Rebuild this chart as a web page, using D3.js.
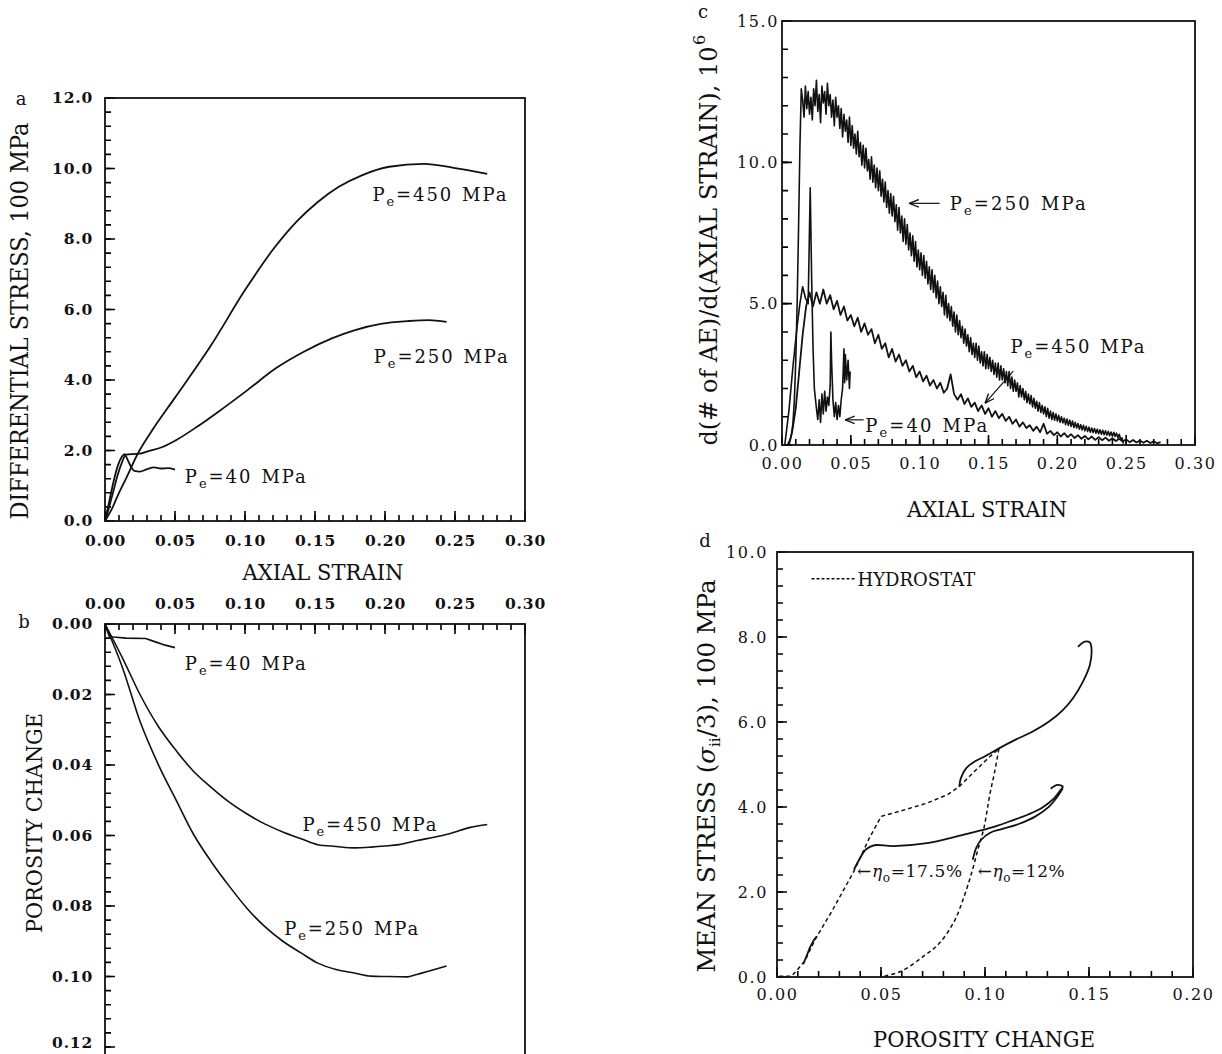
<!DOCTYPE html>
<html>
<head>
<meta charset="utf-8">
<script src="https://cdn.jsdelivr.net/npm/d3@7"></script>
<style>
body { margin: 0; background: #fff; }
svg text { font-family: "DejaVu Serif", serif; fill: #111; }
</style>
</head>
<body>
<svg id="chart" width="1222" height="1054"></svg>
<script>
// ---- panel a: differential stress (100 MPa) vs axial strain
let strainA40 = [0, 0.003, 0.006, 0.009, 0.012, 0.014, 0.016, 0.018, 0.021, 0.025, 0.03, 0.035, 0.04, 0.045, 0.05];
let stressA40 = [0, 0.55, 1.1, 1.55, 1.82, 1.9, 1.75, 1.58, 1.42, 1.4, 1.47, 1.52, 1.49, 1.5, 1.46];
let strainA250 = [0, 0.003, 0.006, 0.009, 0.012, 0.015, 0.02, 0.025, 0.03, 0.041, 0.051, 0.066, 0.081, 0.102, 0.122, 0.142, 0.162, 0.178, 0.198, 0.216, 0.231, 0.244];
let stressA250 = [0, 0.4, 0.85, 1.3, 1.65, 1.88, 1.9, 1.91, 1.97, 2.1, 2.3, 2.68, 3.1, 3.72, 4.33, 4.8, 5.18, 5.41, 5.6, 5.67, 5.7, 5.65];
let strainA450 = [0, 0.005, 0.01, 0.015, 0.023, 0.035, 0.05, 0.076, 0.1, 0.12, 0.137, 0.152, 0.167, 0.183, 0.203, 0.228, 0.249, 0.273];
let stressA450 = [0, 0.35, 0.8, 1.2, 1.88, 2.65, 3.5, 5.0, 6.55, 7.7, 8.5, 9.05, 9.48, 9.8, 10.05, 10.13, 10.02, 9.85];

// ---- panel b: porosity change vs axial strain
let strainB40 = [0, 0.003, 0.006, 0.015, 0.029, 0.0355, 0.043, 0.05];
let poroB40 = [0, 0.0035, 0.0037, 0.004, 0.0041, 0.005, 0.006, 0.0067];
let strainB450 = [0, 0.0127, 0.025, 0.038, 0.051, 0.063, 0.076, 0.089, 0.1015, 0.114, 0.127, 0.14, 0.152, 0.165, 0.178, 0.19, 0.2, 0.21, 0.223, 0.235, 0.246, 0.261, 0.273];
let poroB450 = [0, 0.0098, 0.02, 0.029, 0.036, 0.0417, 0.0464, 0.0506, 0.0539, 0.0567, 0.059, 0.0609, 0.0626, 0.0631, 0.0635, 0.0633, 0.063, 0.0626, 0.0614, 0.0605, 0.0595, 0.0577, 0.0569];
let strainB250 = [0, 0.0127, 0.025, 0.038, 0.051, 0.063, 0.076, 0.089, 0.1015, 0.114, 0.127, 0.14, 0.152, 0.165, 0.178, 0.19, 0.2, 0.216, 0.222, 0.231, 0.244];
let poroB250 = [0, 0.0126, 0.0276, 0.0398, 0.0501, 0.0595, 0.0675, 0.0745, 0.0807, 0.0858, 0.09, 0.0933, 0.0962, 0.098, 0.099, 0.0999, 0.1, 0.1001, 0.0995, 0.0985, 0.097];

// ---- panel c: d(# of AE)/d(axial strain), 10^6 (noisy records)
let strainC40 = [0.002, 0.005, 0.008, 0.011, 0.013, 0.015, 0.017, 0.019, 0.0205, 0.0215,
    0.0225, 0.0235, 0.025, 0.026, 0.027, 0.028, 0.029, 0.030, 0.031, 0.032,
    0.033, 0.034, 0.035, 0.0355, 0.036, 0.037, 0.038, 0.039, 0.040, 0.041,
    0.042, 0.043, 0.044, 0.045, 0.0455, 0.046, 0.047, 0.048, 0.049, 0.0495];
let aeC40 = [0.0, 1.2, 2.8, 4.2, 5.0, 5.6, 5.2, 5.0, 9.1, 6.0,
    3.5, 2.0, 1.3, 0.9, 1.6, 0.8, 1.8, 1.1, 1.9, 1.2,
    1.7, 1.4, 2.1, 4.0, 3.0, 1.6, 1.0, 1.5, 0.9, 1.4,
    1.0, 1.6, 2.0, 3.4, 2.2, 3.2, 2.3, 3.0, 2.0, 2.6];
// 250 MPa record, one reading every 0.001 strain from 0.004
let aeC250Start = 0.004, aeC250Step = 0.001;
let aeC250 = [0.0, 0.1, 0.2, 0.4, 0.8, 1.6, 3.0, 5.0, 7.6, 10.5,
    12.6, 12.2, 11.6, 12.7, 11.9, 12.5, 11.7, 12.3, 11.5, 12.6,
    12.0, 12.9, 11.8, 12.4, 11.4, 12.7, 12.1, 12.5, 11.7, 12.8,
    12.0, 12.4, 11.6, 12.2, 11.3, 12.3, 11.6, 12.0, 11.2, 11.9,
    10.9, 11.7, 11.1, 11.5, 10.7, 11.6, 10.6, 11.3, 10.5, 11.0,
    10.3, 11.1, 10.2, 10.7, 9.9, 10.6, 9.8, 10.5, 9.7, 10.1,
    9.4, 10.2, 9.3, 9.9, 9.1, 9.8, 9.0, 9.7, 8.8, 9.4,
    8.6, 9.3, 8.4, 9.0, 8.2, 8.9, 8.1, 8.8, 7.9, 8.5,
    7.6, 8.4, 7.5, 8.1, 7.2, 8.0, 7.1, 7.8, 6.9, 7.5,
    6.7, 7.4, 6.5, 7.2, 6.3, 6.9, 6.2, 6.8, 6.0, 6.7,
    5.9, 6.5, 5.7, 6.3, 5.5, 6.2, 5.4, 6.0, 5.2, 5.8,
    5.0, 5.6, 4.9, 5.4, 4.6, 5.3, 4.5, 5.0, 4.4, 4.9,
    4.2, 4.7, 4.0, 4.6, 3.9, 4.4, 3.8, 4.2, 3.6, 4.1,
    3.5, 3.9, 3.3, 3.8, 3.2, 3.6, 3.1, 3.6, 3.0, 3.5,
    2.9, 3.3, 2.8, 3.3, 2.7, 3.2, 2.7, 3.1, 2.6, 3.0,
    2.5, 2.9, 2.4, 2.9, 2.3, 2.8, 2.3, 2.7, 2.2, 2.6,
    2.1, 2.6, 2.0, 2.4, 1.9, 2.3, 1.9, 2.2, 1.7, 2.1,
    1.7, 2.0, 1.6, 1.9, 1.5, 1.8, 1.45, 1.75, 1.35, 1.65,
    1.3, 1.55, 1.2, 1.5, 1.15, 1.4, 1.1, 1.35, 1.0, 1.3,
    0.95, 1.2, 0.9, 1.15, 0.88, 1.1, 0.85, 1.05, 0.8, 1.0,
    0.78, 0.95, 0.72, 0.92, 0.7, 0.88, 0.66, 0.85, 0.62, 0.8,
    0.6, 0.76, 0.56, 0.72, 0.53, 0.7, 0.5, 0.66, 0.48, 0.63,
    0.45, 0.6, 0.44, 0.58, 0.42, 0.56, 0.4, 0.54, 0.38, 0.52,
    0.36, 0.5, 0.35, 0.48, 0.33, 0.46, 0.31, 0.45, 0.3, 0.42,
    0.26, 0.38, 0.2, 0.25, 0.05];
// 450 MPa record, one reading every 0.0025 strain from 0.005
let aeC450Start = 0.005, aeC450Step = 0.0025;
let aeC450 = [0.0, 0.5, 1.3, 2.6, 3.9, 4.9, 5.4, 4.9, 5.4, 5.0,
    5.5, 5.0, 5.3, 4.8, 5.1, 4.6, 4.9, 4.4, 4.6, 4.2,
    4.5, 4.0, 4.3, 3.9, 4.1, 3.6, 3.9, 3.4, 3.6, 3.1,
    3.4, 2.95, 3.2, 2.8, 3.0, 2.6, 2.8, 2.4, 2.6, 2.25,
    2.45, 2.1, 2.3, 2.0, 2.2, 1.85, 2.0, 2.5, 1.8, 1.6,
    1.8, 1.45, 1.65, 1.35, 1.5, 1.2, 1.4, 1.1, 1.3, 1.0,
    1.2, 0.95, 1.1, 0.85, 1.0, 0.75, 0.9, 0.65, 0.8, 0.6,
    0.7, 0.5, 0.65, 0.45, 0.75, 0.4, 0.5, 0.35, 0.45, 0.3,
    0.42, 0.28, 0.38, 0.25, 0.35, 0.22, 0.32, 0.2, 0.3, 0.18,
    0.28, 0.17, 0.26, 0.15, 0.24, 0.14, 0.22, 0.12, 0.2, 0.1,
    0.18, 0.09, 0.16, 0.08, 0.15, 0.07, 0.13, 0.06, 0.1];

// ---- panel d: mean stress (100 MPa) vs porosity change
let poroD175Hydro = [0.0011, 0.0069, 0.0093, 0.0134, 0.0183, 0.0264, 0.037, 0.0444, 0.0501, 0.059, 0.0721, 0.0819, 0.0876, 0.095, 0.1007, 0.1067];
let meanD175Hydro = [0.02, 0.02, 0.14, 0.38, 0.88, 1.55, 2.49, 3.27, 3.78, 3.9, 4.09, 4.29, 4.48, 4.84, 5.11, 5.38];
let poroD12Hydro = [0.0517, 0.0599, 0.0705, 0.0778, 0.0852, 0.09, 0.0938, 0.0966, 0.0995, 0.1023, 0.1047, 0.1067];
let meanD12Hydro = [0.02, 0.14, 0.49, 0.78, 1.31, 1.9, 2.49, 3.0, 3.51, 4.29, 4.84, 5.38];
let poroD175Low = [0.037, 0.0395, 0.0427, 0.0468, 0.0558, 0.0721, 0.0884, 0.0966, 0.1047, 0.1129, 0.121, 0.1276, 0.1333, 0.1365, 0.1374, 0.1349, 0.1316];
let meanD175Low = [2.53, 2.76, 3.0, 3.1, 3.08, 3.15, 3.33, 3.43, 3.54, 3.68, 3.83, 3.99, 4.21, 4.41, 4.48, 4.52, 4.43];
let poroD12Low = [0.0941, 0.0958, 0.0982, 0.1023, 0.108, 0.1162, 0.1243, 0.1308, 0.1349, 0.1374];
let meanD12Low = [2.76, 3.04, 3.23, 3.39, 3.48, 3.6, 3.78, 4.01, 4.25, 4.44];
let poroD175High = [0.0876, 0.0884, 0.0909, 0.095, 0.0998, 0.1067, 0.1145, 0.1227, 0.1308, 0.1374, 0.1423, 0.1471, 0.1504, 0.1512, 0.1504, 0.148, 0.1447];
let meanD175High = [4.48, 4.68, 4.91, 5.07, 5.19, 5.38, 5.58, 5.77, 6.01, 6.28, 6.56, 6.95, 7.34, 7.73, 7.87, 7.89, 7.77];
let poroDStart = [0.0126, 0.0142, 0.0158, 0.0175, 0.0191];
let meanDStart = [0.3, 0.49, 0.69, 0.85, 0.96];

let svg = d3.select("#chart");

let defs = svg.append("defs");
defs.append("marker")
    .attr("id", "arrow")
    .attr("viewBox", "0 0 10 10")
    .attr("refX", 10).attr("refY", 5)
    .attr("markerWidth", 8).attr("markerHeight", 8)
    .attr("orient", "auto")
    .append("path")
    .attr("d", "M0,1 L10,5 L0,9")
    .attr("fill", "none")
    .attr("stroke", "#111")
    .attr("stroke-width", 1.4);

// inward tick marks, one path per set, placed with the scale
function tickMarks(g, scale, vals, len, horizontal, at) {
    let d = vals.map(function(v) {
        return horizontal
            ? "M" + scale(v) + "," + at + "V" + (at + len)
            : "M" + at + "," + scale(v) + "H" + (at + len);
    }).join("");
    g.append("path")
        .attr("d", d)
        .attr("fill", "none")
        .attr("stroke", "#000")
        .attr("stroke-width", 1.6);
}

// frame, ticks and tick labels for one panel
function setupPanel(p) {
    let g = svg.append("g");
    let x = d3.scaleLinear().domain(p.xDomain).range([p.left, p.right]);
    let y = d3.scaleLinear().domain(p.yDomain).range([p.bottom, p.top]);

    let xAxis = p.xOnTop ? d3.axisTop : d3.axisBottom;
    let xAt = p.xOnTop ? p.top : p.bottom;
    let dir = p.xOnTop ? 1 : -1;

    tickMarks(g, x, p.xMinor, dir * 6, true, xAt);
    tickMarks(g, x, p.xTicks, dir * 10, true, xAt);
    tickMarks(g, y, p.yMinor, 6, false, p.left);
    tickMarks(g, y, p.yTicks, 10, false, p.left);

    let xg = g.append("g").attr("transform", "translate(0," + xAt + ")")
        .call(xAxis(x).tickValues(p.xTicks).tickSize(0).tickPadding(p.xPad).tickFormat(d3.format(".2f")))
        .call(a => a.select(".domain").remove());
    let yg = g.append("g").attr("transform", "translate(" + p.left + ",0)")
        .call(d3.axisLeft(y).tickValues(p.yTicks).tickSize(0).tickPadding(p.yPad).tickFormat(d3.format(p.yFmt)))
        .call(a => a.select(".domain").remove());

    [xg, yg].forEach(function(a) {
        a.selectAll("text")
            .attr("font-size", p.tickFont)
            .attr("font-weight", p.tickWeight)
            .attr("letter-spacing", p.tickSpacing)
            .attr("fill", "#111");
    });

    let frameBottom = p.frameBottom || p.bottom;
    g.append("rect")
        .attr("x", p.left).attr("y", p.top)
        .attr("width", p.right - p.left).attr("height", frameBottom - p.top)
        .attr("fill", "none").attr("stroke", "#111").attr("stroke-width", 1.8);

    return {g: g, x: x, y: y, yAxis: yg};
}

function drawLine(panel, xs, ys, opts) {
    let line = d3.line()
        .x(d => panel.x(d[0]))
        .y(d => panel.y(d[1]))
        .curve(opts.curve || d3.curveLinear);
    panel.g.append("path")
        .datum(d3.zip(xs, ys))
        .attr("d", line)
        .attr("fill", "none")
        .attr("stroke", "#111")
        .attr("stroke-width", opts.width || 1.8)
        .attr("stroke-dasharray", opts.dash || null)
        .attr("stroke-linejoin", "round");
}

// "P_e=xxx MPa" labels
function peLabel(panel, s, v, pres, len) {
    let t = panel.g.append("text")
        .attr("x", panel.x(s)).attr("y", panel.y(v))
        .attr("font-size", 18)
        .attr("textLength", len);
    t.append("tspan").text("P");
    t.append("tspan").attr("font-size", 13).attr("dy", 5).text("e");
    t.append("tspan").attr("dy", -5).text("=" + pres);
    t.append("tspan").attr("dx", 9).text("MPa");
}

function arrow(panel, s1, v1, s2, v2) {
    panel.g.append("line")
        .attr("x1", panel.x(s1)).attr("y1", panel.y(v1))
        .attr("x2", panel.x(s2)).attr("y2", panel.y(v2))
        .attr("stroke", "#111").attr("stroke-width", 1.2)
        .attr("marker-end", "url(#arrow)");
}

function xTitle(cx, by, len, txt) {
    svg.append("text")
        .attr("x", cx).attr("y", by)
        .attr("text-anchor", "middle")
        .attr("font-size", 22)
        .attr("textLength", len).attr("lengthAdjust", "spacingAndGlyphs")
        .text(txt);
}

function yTitle(bx, cy, len, size) {
    return svg.append("text")
        .attr("transform", "translate(" + bx + "," + cy + ") rotate(-90)")
        .attr("text-anchor", "middle")
        .attr("font-size", size)
        .attr("textLength", len).attr("lengthAdjust", "spacingAndGlyphs");
}

function panelLetter(x, y, txt) {
    svg.append("text").attr("x", x).attr("y", y)
        .attr("text-anchor", "middle").attr("font-size", 18).text(txt);
}

let strainTicks = [0, 0.05, 0.1, 0.15, 0.2, 0.25, 0.3];
let strainMinor = d3.range(0, 0.3001, 0.01);

// ---------- a ----------
let pa = setupPanel({
    left: 105, right: 525, top: 98, bottom: 521,
    xDomain: [0, 0.3], yDomain: [0, 12],
    xTicks: strainTicks, xMinor: strainMinor,
    yTicks: [0, 2, 4, 6, 8, 10, 12], yMinor: d3.range(0, 12.01, 0.4), yFmt: ".1f",
    xPad: 14, yPad: 12,
    tickFont: 15.5, tickWeight: "bold", tickSpacing: 0.8
});
drawLine(pa, strainA40, stressA40, {curve: d3.curveMonotoneX});
drawLine(pa, strainA250, stressA250, {curve: d3.curveMonotoneX});
drawLine(pa, strainA450, stressA450, {curve: d3.curveMonotoneX});
peLabel(pa, 0.191, 9.09, "450", 134);
peLabel(pa, 0.192, 4.47, "250", 134);
peLabel(pa, 0.057, 1.08, "40", 121);
xTitle(323, 580, 161, "AXIAL STRAIN");
yTitle(28, 321, 397, 24).text("DIFFERENTIAL STRESS, 100 MPa");
panelLetter(21, 105, "a");

// ---------- b ----------
let pb = setupPanel({
    left: 105, right: 525, top: 624, bottom: 1047, frameBottom: 1060,
    xOnTop: true,
    xDomain: [0, 0.3], yDomain: [0.12, 0],
    xTicks: strainTicks, xMinor: strainMinor,
    yTicks: [0, 0.02, 0.04, 0.06, 0.08, 0.1, 0.12], yMinor: d3.range(0, 0.1201, 0.004), yFmt: ".2f",
    xPad: 15, yPad: 12,
    tickFont: 15.5, tickWeight: "bold", tickSpacing: 0.8
});
// keep the last label inside the picture
pb.yAxis.selectAll(".tick text").filter(d => d > 0.11).attr("dy", "0.05em");
drawLine(pb, strainB40, poroB40, {width: 1.6});
drawLine(pb, strainB450, poroB450, {width: 1.6, curve: d3.curveMonotoneX});
drawLine(pb, strainB250, poroB250, {width: 1.6, curve: d3.curveMonotoneX});
peLabel(pb, 0.057, 0.0131, "40", 121);
peLabel(pb, 0.141, 0.0586, "450", 134);
peLabel(pb, 0.128, 0.0882, "250", 134);
yTitle(42, 823, 220, 23).text("POROSITY CHANGE");
panelLetter(24, 628, "b");

// ---------- c ----------
let pc = setupPanel({
    left: 782, right: 1195, top: 21, bottom: 445,
    xDomain: [0, 0.3], yDomain: [0, 15],
    xTicks: strainTicks, xMinor: strainMinor,
    yTicks: [0, 5, 10, 15], yMinor: d3.range(0, 15.01, 1), yFmt: ".1f",
    xPad: 13, yPad: 3,
    tickFont: 16, tickWeight: "normal", tickSpacing: 1.6
});
let strainC250 = aeC250.map((v, i) => aeC250Start + i * aeC250Step);
let strainC450 = aeC450.map((v, i) => aeC450Start + i * aeC450Step);
drawLine(pc, strainC450, aeC450, {width: 1.8});
drawLine(pc, strainC250, aeC250, {width: 1.6});
drawLine(pc, strainC40, aeC40, {width: 1.6});
peLabel(pc, 0.1218, 8.31, "250", 136);
arrow(pc, 0.1145, 8.55, 0.0924, 8.55);
peLabel(pc, 0.166, 3.27, "450", 134);
arrow(pc, 0.168, 2.61, 0.1475, 1.48);
peLabel(pc, 0.0605, 0.475, "40", 122);
arrow(pc, 0.0593, 0.89, 0.0458, 0.89);
xTitle(987, 517, 160, "AXIAL STRAIN");
yTitle(717, 246, 399, 24).text("d(# of AE)/d(AXIAL STRAIN), 10");
svg.append("text")
    .attr("transform", "translate(705,45) rotate(-90)")
    .attr("font-size", 16)
    .text("6");
panelLetter(703, 18, "c");

// ---------- d ----------
let pd = setupPanel({
    left: 777, right: 1193, top: 552, bottom: 977,
    xDomain: [0, 0.2], yDomain: [0, 10],
    xTicks: [0, 0.05, 0.1, 0.15, 0.2], xMinor: d3.range(0, 0.2001, 0.01),
    yTicks: [0, 2, 4, 6, 8, 10], yMinor: d3.range(0, 10.01, 0.4), yFmt: ".1f",
    xPad: 12, yPad: 9,
    tickFont: 16, tickWeight: "normal", tickSpacing: 1.6
});
drawLine(pd, poroD175Hydro, meanD175Hydro, {width: 1.5, dash: "4,3"});
drawLine(pd, poroD12Hydro, meanD12Hydro, {width: 1.5, dash: "4,3", curve: d3.curveCatmullRom});
drawLine(pd, poroD175Low, meanD175Low, {curve: d3.curveCatmullRom});
drawLine(pd, poroD12Low, meanD12Low, {curve: d3.curveCatmullRom});
drawLine(pd, poroD175High, meanD175High, {curve: d3.curveCatmullRom});
drawLine(pd, poroDStart, meanDStart, {});

// legend
pd.g.append("line")
    .attr("x1", pd.x(0.0166)).attr("x2", pd.x(0.0378))
    .attr("y1", pd.y(9.37)).attr("y2", pd.y(9.37))
    .attr("stroke", "#111").attr("stroke-width", 1.5).attr("stroke-dasharray", "3,2");
pd.g.append("text")
    .attr("x", pd.x(0.0387)).attr("y", pd.y(9.2))
    .attr("font-size", 18)
    .text("HYDROSTAT");

// porosity annotations
function etaLabel(s, v, txt, len) {
    let t = pd.g.append("text")
        .attr("x", pd.x(s)).attr("y", pd.y(v))
        .attr("font-size", 17)
        .attr("textLength", len);
    t.append("tspan").text("\u2190");
    t.append("tspan").attr("font-style", "italic").text("\u03b7");
    t.append("tspan").attr("font-size", 12).attr("dy", 5).text("o");
    t.append("tspan").attr("dy", -5).text("=" + txt);
}
etaLabel(0.0385, 2.35, "17.5%", 105);
etaLabel(0.0965, 2.35, "12%", 87);

xTitle(984, 1047, 222, "POROSITY CHANGE");
let dTitle = yTitle(715, 776, 393, 24);
dTitle.append("tspan").text("MEAN STRESS (");
dTitle.append("tspan").attr("font-style", "italic").text("\u03c3");
dTitle.append("tspan").attr("font-size", 15).attr("dy", 5).text("ii");
dTitle.append("tspan").attr("dy", -5).text("/3), 100 MPa");
panelLetter(705, 547, "d");
</script>
</body>
</html>
